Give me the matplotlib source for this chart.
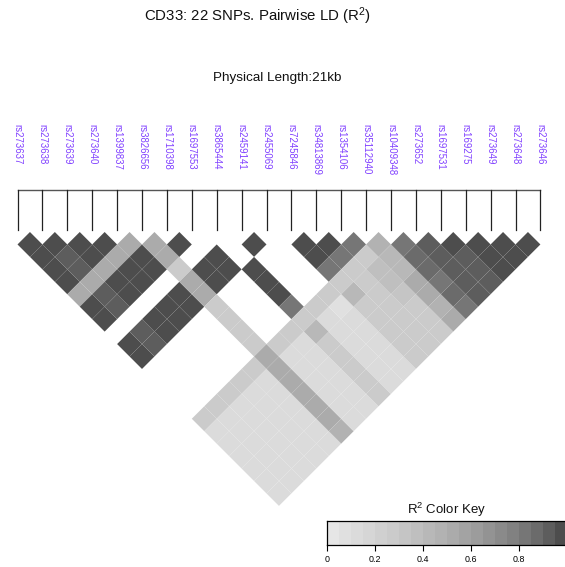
import numpy as np
import matplotlib
matplotlib.use("Agg")
import matplotlib.pyplot as plt
from matplotlib.collections import PolyCollection
from matplotlib.colors import ListedColormap, BoundaryNorm

plt.rcParams['font.family'] = ['Liberation Sans', 'DejaVu Sans']
plt.rcParams['mathtext.fontset'] = 'custom'
plt.rcParams['mathtext.rm'] = 'Liberation Sans'
plt.rcParams['mathtext.it'] = 'Liberation Sans'

snps = ["rs273637", "rs273638", "rs273639", "rs273640", "rs1399837",
        "rs3826656", "rs1710398", "rs1697553", "rs3865444", "rs2459141",
        "rs2455069", "rs7245846", "rs34813869", "rs1354106", "rs35112940",
        "rs10409348", "rs273652", "rs1697531", "rs169275", "rs273649",
        "rs273648", "rs273646"]

nan = np.nan
# r2 of SNP i with SNP j (j = i+1 .. 21); nan = not available (white)
r2_row00 = [0.98, 0.98, 0.98, 0.98, 0.52, 0.98, 0.98, nan, 0.98, 0.98, nan, nan, nan, nan, 0.27, 0.12, 0.12, 0.12, 0.12, 0.12, 0.12]
r2_row01 = [0.98, 0.92, 0.92, 0.52, 0.92, 0.92, nan, 0.92, 0.92, nan, nan, nan, nan, 0.29, 0.12, 0.12, 0.12, 0.12, 0.12, 0.12]
r2_row02 = [0.98, 0.98, 0.52, 0.98, 0.98, nan, 0.98, 0.98, nan, nan, nan, nan, 0.27, 0.12, 0.12, 0.12, 0.12, 0.12, 0.12]
r2_row03 = [0.98, 0.52, 0.98, 0.98, nan, 0.98, 0.98, nan, nan, nan, nan, 0.27, 0.12, 0.12, 0.12, 0.12, 0.12, 0.12]
r2_row04 = [0.52, 0.98, 0.98, nan, 0.98, 0.98, nan, nan, nan, nan, 0.27, 0.12, 0.12, 0.12, 0.12, 0.12, 0.12]
r2_row05 = [0.52, 0.52, 0.30, 0.52, 0.52, 0.30, 0.30, 0.30, 0.30, 0.54, 0.52, 0.52, 0.52, 0.52, 0.50, 0.48]
r2_row06 = [0.98, nan, 0.98, 0.98, nan, nan, nan, nan, 0.27, 0.12, 0.12, 0.12, 0.12, 0.12, 0.12]
r2_row07 = [nan, 0.98, 0.98, nan, nan, nan, nan, 0.25, 0.12, 0.12, 0.12, 0.12, 0.12, 0.12]
r2_row08 = [nan, nan, 0.98, 0.98, 0.98, 0.82, 0.28, 0.43, 0.30, 0.30, 0.28, 0.28, 0.28]
r2_row09 = [0.98, nan, nan, nan, nan, 0.25, 0.12, 0.12, 0.12, 0.12, 0.12, 0.12]
r2_row10 = [nan, nan, nan, nan, 0.27, 0.07, 0.12, 0.12, 0.12, 0.12, 0.12]
r2_row11 = [0.98, 0.98, 0.82, 0.28, 0.43, 0.28, 0.28, 0.28, 0.28, 0.28]
r2_row12 = [0.98, 0.82, 0.28, 0.28, 0.30, 0.30, 0.30, 0.28, 0.28]
r2_row13 = [0.82, 0.30, 0.38, 0.38, 0.33, 0.30, 0.30, 0.28]
r2_row14 = [0.47, 0.40, 0.42, 0.50, 0.52, 0.48, 0.52]
r2_row15 = [0.82, 0.87, 0.86, 0.85, 0.86, 0.85]
r2_row16 = [0.92, 0.92, 0.92, 0.92, 0.91]
r2_row17 = [0.98, 0.94, 0.94, 0.93]
r2_row18 = [0.97, 0.98, 0.98]
r2_row19 = [0.96, 0.97]
r2_row20 = [0.96]

rows = [r2_row00, r2_row01, r2_row02, r2_row03, r2_row04, r2_row05, r2_row06,
        r2_row07, r2_row08, r2_row09, r2_row10, r2_row11, r2_row12, r2_row13,
        r2_row14, r2_row15, r2_row16, r2_row17, r2_row18, r2_row19, r2_row20]

key_ticks = [0, 0.2, 0.4, 0.6, 0.8]

# grey.colors(20) reversed (0 -> light, 1 -> dark)
gam = 2.2
lv = np.linspace(0.3 ** gam, 0.9 ** gam, 20) ** (1 / gam)
cmap = ListedColormap([(v, v, v) for v in lv[::-1]])
bounds = np.linspace(0, 1, 21)
norm = BoundaryNorm(bounds, 20)

W, H = 565, 567
fig = plt.figure(figsize=(W / 100, H / 100), dpi=100)
ax = fig.add_axes([0, 0, 1, 1])
ax.set_xlim(0, W)
ax.set_ylim(H, 0)
ax.axis('off')

n = len(snps)
x0, d = 17.5, 24.9
y_top = 232.0
h = d / 2
xs = x0 + np.arange(n) * d

polys, vals = [], []
for i, row in enumerate(rows):
    for k, v in enumerate(row):
        j = i + 1 + k
        if np.isnan(v):
            continue
        cx = x0 + (i + j) * h
        cy = y_top + (j - i) * h
        polys.append([(cx, cy - h), (cx + h, cy), (cx, cy + h), (cx - h, cy)])
        vals.append(v)
pc = PolyCollection(polys, array=np.array(vals), cmap=cmap, norm=norm,
                    edgecolors='face', linewidths=0.0, antialiased=True)
ax.add_collection(pc)

# map line and ticks
ax.plot([xs[0], xs[-1]], [190, 190], color='#555555', lw=1.0)
for x in xs:
    ax.plot([x, x], [190, 230], color='#222222', lw=0.9)

for x, name in zip(xs, snps):
    ax.text(x, 124, name, rotation=270, ha='center', va='top',
            fontsize=6.9, color='#8040FF')

ax.text(257.5, 16, "CD33: 22 SNPs. Pairwise LD (R$^{2}$)", ha='center',
        va='center', fontsize=10.8, color='#111111')
ax.text(277.5, 78, "Physical Length:21kb", ha='center', va='center',
        fontsize=9.7, color='#111111')

# colour key
kx0, kx1, ky0, ky1 = 327.0, 567.0, 521.0, 545.0
kax = fig.add_axes([kx0 / W, 1 - ky1 / H, (kx1 - kx0) / W, (ky1 - ky0) / H])
kax.pcolormesh(bounds, [0, 1], ((bounds[:-1] + bounds[1:]) / 2)[None, :],
               cmap=cmap, norm=norm, shading='flat')
kax.set_xlim(0, 1)
kax.set_ylim(0, 1)
kax.set_yticks([])
kax.set_xticks(key_ticks)
kax.set_xticklabels(["0", "0.2", "0.4", "0.6", "0.8"], fontsize=6.4)
kax.tick_params(axis='x', direction='out', length=4, width=0.8, pad=3)
for s in kax.spines.values():
    s.set_linewidth(0.9)
ax.text(447, 510, "R$^{2}$ Color Key", ha='center', va='center',
        fontsize=9.5, color='#111111')

fig.savefig("out.png", dpi=100)
